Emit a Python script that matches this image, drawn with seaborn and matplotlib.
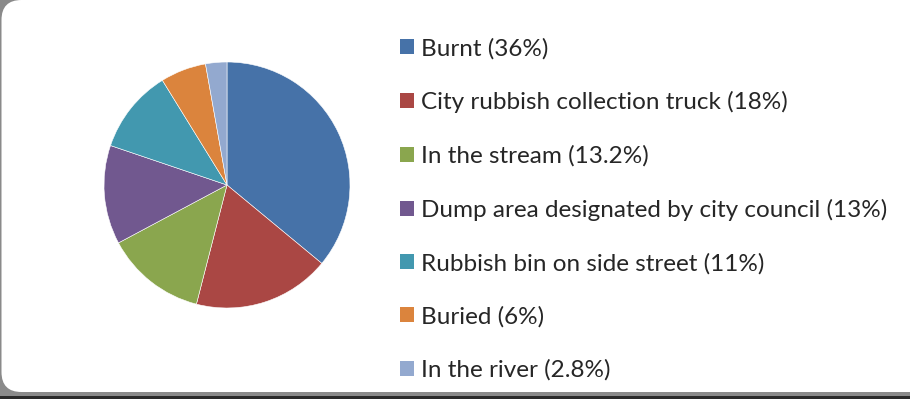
import matplotlib
matplotlib.use("Agg")
import matplotlib.pyplot as plt
import seaborn as sns
from matplotlib.patches import FancyBboxPatch, Rectangle, Patch

# waste disposal methods, share of households (%)
labels = [
    "Burnt (36%)",
    "City rubbish collection truck (18%)",
    "In the stream (13.2%)",
    "Dump area designated by city council (13%)",
    "Rubbish bin on side street (11%)",
    "Buried (6%)",
    "In the river (2.8%)",
]
shares = [36, 18, 13.2, 13, 11, 6, 2.8]
colors = ["#4672A8", "#AA4744", "#8AA64E", "#71588F", "#4298AF", "#DB843D", "#93A9CF"]

sns.set_style("white")
plt.rcParams["font.family"] = ["Lato", "DejaVu Sans"]

W, H = 910, 399
fig = plt.figure(figsize=(W / 100, H / 100), dpi=100)
fig.patch.set_facecolor("#8a8a8a")

# background: rounded white panel drawn in pixel coordinates
bg = fig.add_axes([0, 0, 1, 1], zorder=0)
bg.set_xlim(0, W)
bg.set_ylim(H, 0)
bg.axis("off")
bg.add_patch(Rectangle((0, 396), W, 3, color="#2a2a2a", lw=0))
bg.add_patch(FancyBboxPatch((1.5, 0), W + 20, 392,
                            boxstyle="round,pad=0,rounding_size=20",
                            fc="white", ec="none"))

# pie: centre (227,185) px, radius 123 px
cx, cy, r = 227, 185, 123
ax = fig.add_axes([(cx - r) / W, (H - cy - r) / H, 2 * r / W, 2 * r / H], zorder=1)
ax.pie(shares, colors=colors, startangle=90, counterclock=False, radius=1,
       wedgeprops=dict(edgecolor="white", linewidth=0.4))
ax.set_xlim(-1, 1)
ax.set_ylim(-1, 1)
ax.axis("off")

handles = [Patch(facecolor=c, edgecolor="none") for c in colors]
fig.legend(handles, labels, loc="upper left", bbox_to_anchor=(400 / W, 1 - 38 / H),
           frameon=False, fontsize=17.5, handlelength=0.58, handleheight=0.58,
           handletextpad=0.3, labelspacing=1.31, borderpad=0, borderaxespad=0)

fig.savefig("out.png", dpi=100, facecolor=fig.get_facecolor())
